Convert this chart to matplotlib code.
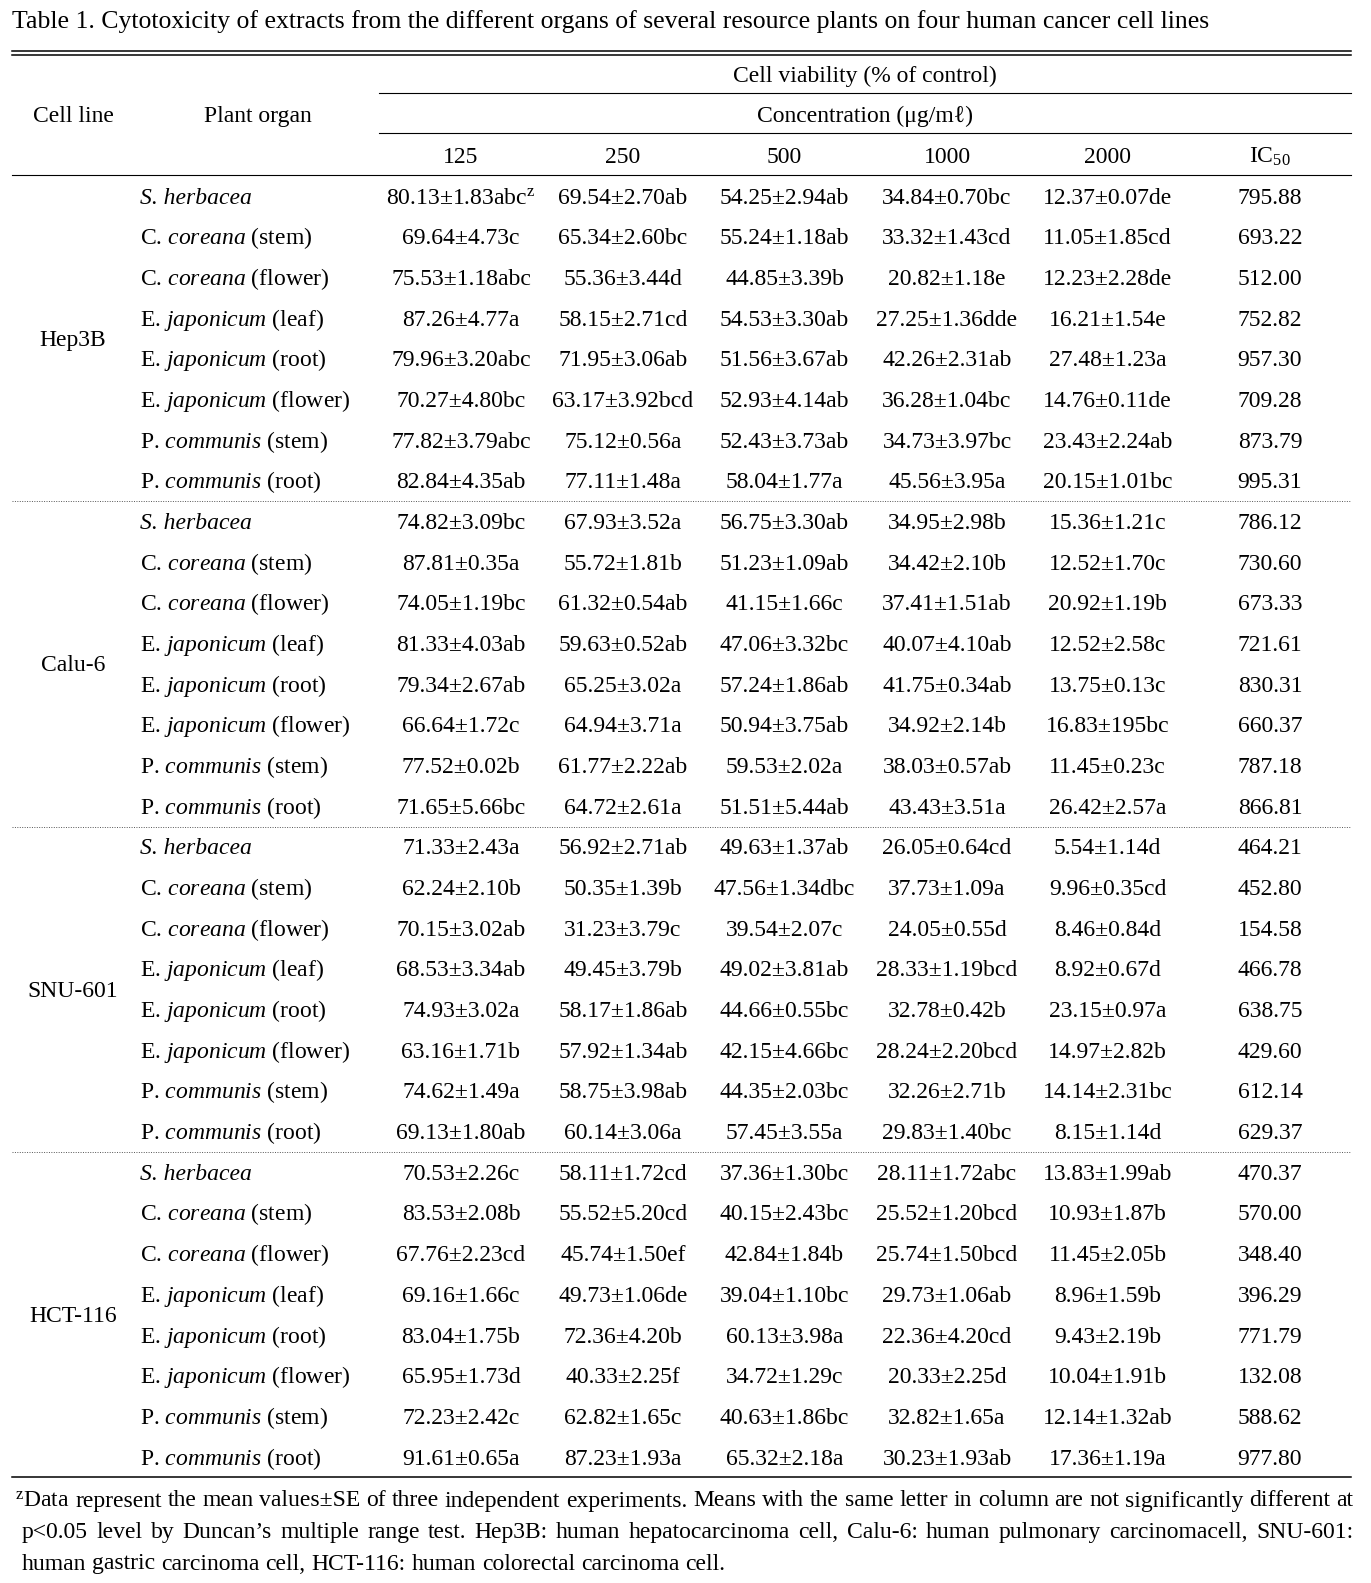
import matplotlib
matplotlib.use('Agg')
import matplotlib.pyplot as plt

plt.rcParams['font.family'] = ['Liberation Serif', 'DejaVu Serif']
plt.rcParams['mathtext.fontset'] = 'custom'
plt.rcParams['mathtext.rm'] = 'Liberation Serif'
plt.rcParams['mathtext.it'] = 'Liberation Serif:italic'

title = ("Table 1. Cytotoxicity of extracts from the different organs of "
         "several resource plants on four human cancer cell lines")
concentrations = ['125', '250', '500', '1000', '2000']

cell_lines = ['Hep3B', 'Calu-6', 'SNU-601', 'HCT-116']
organs = ['S. herbacea', 'C. coreana (stem)', 'C. coreana (flower)',
          'E. japonicum (leaf)', 'E. japonicum (root)', 'E. japonicum (flower)',
          'P. communis (stem)', 'P. communis (root)']

c125 = ['80.13±1.83abc', '69.64±4.73c', '75.53±1.18abc', '87.26±4.77a',
        '79.96±3.20abc', '70.27±4.80bc', '77.82±3.79abc', '82.84±4.35ab',
        '74.82±3.09bc', '87.81±0.35a', '74.05±1.19bc', '81.33±4.03ab',
        '79.34±2.67ab', '66.64±1.72c', '77.52±0.02b', '71.65±5.66bc',
        '71.33±2.43a', '62.24±2.10b', '70.15±3.02ab', '68.53±3.34ab',
        '74.93±3.02a', '63.16±1.71b', '74.62±1.49a', '69.13±1.80ab',
        '70.53±2.26c', '83.53±2.08b', '67.76±2.23cd', '69.16±1.66c',
        '83.04±1.75b', '65.95±1.73d', '72.23±2.42c', '91.61±0.65a']
c250 = ['69.54±2.70ab', '65.34±2.60bc', '55.36±3.44d', '58.15±2.71cd',
        '71.95±3.06ab', '63.17±3.92bcd', '75.12±0.56a', '77.11±1.48a',
        '67.93±3.52a', '55.72±1.81b', '61.32±0.54ab', '59.63±0.52ab',
        '65.25±3.02a', '64.94±3.71a', '61.77±2.22ab', '64.72±2.61a',
        '56.92±2.71ab', '50.35±1.39b', '31.23±3.79c', '49.45±3.79b',
        '58.17±1.86ab', '57.92±1.34ab', '58.75±3.98ab', '60.14±3.06a',
        '58.11±1.72cd', '55.52±5.20cd', '45.74±1.50ef', '49.73±1.06de',
        '72.36±4.20b', '40.33±2.25f', '62.82±1.65c', '87.23±1.93a']
c500 = ['54.25±2.94ab', '55.24±1.18ab', '44.85±3.39b', '54.53±3.30ab',
        '51.56±3.67ab', '52.93±4.14ab', '52.43±3.73ab', '58.04±1.77a',
        '56.75±3.30ab', '51.23±1.09ab', '41.15±1.66c', '47.06±3.32bc',
        '57.24±1.86ab', '50.94±3.75ab', '59.53±2.02a', '51.51±5.44ab',
        '49.63±1.37ab', '47.56±1.34dbc', '39.54±2.07c', '49.02±3.81ab',
        '44.66±0.55bc', '42.15±4.66bc', '44.35±2.03bc', '57.45±3.55a',
        '37.36±1.30bc', '40.15±2.43bc', '42.84±1.84b', '39.04±1.10bc',
        '60.13±3.98a', '34.72±1.29c', '40.63±1.86bc', '65.32±2.18a']
c1000 = ['34.84±0.70bc', '33.32±1.43cd', '20.82±1.18e', '27.25±1.36dde',
         '42.26±2.31ab', '36.28±1.04bc', '34.73±3.97bc', '45.56±3.95a',
         '34.95±2.98b', '34.42±2.10b', '37.41±1.51ab', '40.07±4.10ab',
         '41.75±0.34ab', '34.92±2.14b', '38.03±0.57ab', '43.43±3.51a',
         '26.05±0.64cd', '37.73±1.09a', '24.05±0.55d', '28.33±1.19bcd',
         '32.78±0.42b', '28.24±2.20bcd', '32.26±2.71b', '29.83±1.40bc',
         '28.11±1.72abc', '25.52±1.20bcd', '25.74±1.50bcd', '29.73±1.06ab',
         '22.36±4.20cd', '20.33±2.25d', '32.82±1.65a', '30.23±1.93ab']
c2000 = ['12.37±0.07de', '11.05±1.85cd', '12.23±2.28de', '16.21±1.54e',
         '27.48±1.23a', '14.76±0.11de', '23.43±2.24ab', '20.15±1.01bc',
         '15.36±1.21c', '12.52±1.70c', '20.92±1.19b', '12.52±2.58c',
         '13.75±0.13c', '16.83±195bc', '11.45±0.23c', '26.42±2.57a',
         '5.54±1.14d', '9.96±0.35cd', '8.46±0.84d', '8.92±0.67d',
         '23.15±0.97a', '14.97±2.82b', '14.14±2.31bc', '8.15±1.14d',
         '13.83±1.99ab', '10.93±1.87b', '11.45±2.05b', '8.96±1.59b',
         '9.43±2.19b', '10.04±1.91b', '12.14±1.32ab', '17.36±1.19a']
ic50 = ['795.88', '693.22', '512.00', '752.82', '957.30', '709.28', '873.79', '995.31',
        '786.12', '730.60', '673.33', '721.61', '830.31', '660.37', '787.18', '866.81',
        '464.21', '452.80', '154.58', '466.78', '638.75', '429.60', '612.14', '629.37',
        '470.37', '570.00', '348.40', '396.29', '771.79', '132.08', '588.62', '977.80']

footnote = [
    "$^{\\mathrm{z}}$Data represent the mean values±SE of three independent experiments. "
    "Means with the same letter in column are not significantly different at",
    "p<0.05 level by Duncan’s multiple range test. Hep3B: human hepatocarcinoma cell, "
    "Calu-6: human pulmonary carcinomacell, SNU-601:",
    "human gastric carcinoma cell, HCT-116: human colorectal carcinoma cell.",
]


def organ_label(name):
    # genus initial upright, species italic, plant part upright
    parts = name.split(' ', 2)
    rest = ' ' + parts[2] if len(parts) > 2 else ''
    return parts[0] + r' $\mathit{%s}$' % parts[1] + rest


fs = 17
W, H = 1371, 1583
fig = plt.figure(figsize=(W / 100, H / 100), dpi=100)
ax = fig.add_axes([0, 0, 1, 1])
ax.set_xlim(0, W)
ax.set_ylim(H, 0)
ax.axis('off')

x_left, x_right = 12, 1351
col_x = [461, 623, 784.5, 947, 1107.5, 1270]
row0, dy = 196, 40.68
base = 7.5  # baseline offset below the row's visual centre


def put(x, y, s, ha='center', **kw):
    return ax.text(x, y + base, s, fontsize=kw.pop('size', fs), ha=ha,
                   va='baseline', **kw)


put(x_left, 20, title, ha='left', size=18.5)

# rules
ax.plot([x_left, x_right], [50.5, 50.5], color='black', lw=1.1)
ax.plot([x_left, x_right], [54.5, 54.5], color='black', lw=1.1)
ax.plot([379, x_right], [93, 93], color='black', lw=0.8)
ax.plot([379, x_right], [133, 133], color='black', lw=0.8)
ax.plot([x_left, x_right], [174.5, 174.5], color='black', lw=0.8)

# header
put(865, 74, 'Cell viability (% of control)')
put(865, 114, 'Concentration (μg/mℓ)')
put(73, 114, 'Cell line')
put(258, 114, 'Plant organ')
for x, c in zip(col_x, concentrations + [r'IC$_{50}$']):
    put(x, 155, c)

columns = [c125, c250, c500, c1000, c2000, ic50]
n_org = len(organs)
for g, cl in enumerate(cell_lines):
    y_mid = row0 + dy * (g * n_org + (n_org - 1) / 2)
    put(73, y_mid, cl)
    for k, org in enumerate(organs):
        i = g * n_org + k
        y = row0 + dy * i
        if org.startswith('S.'):
            put(140, y, org, ha='left', fontstyle='italic')
        else:
            put(140, y, organ_label(org), ha='left')
        for j, col in enumerate(columns):
            s = col[i]
            if i == 0 and j == 0:
                s = s + r'$^{\mathrm{z}}$'
            put(col_x[j], y, s)
    if g < len(cell_lines) - 1:
        ys = row0 + dy * ((g + 1) * n_org - 0.5)
        ax.plot([x_left, x_right], [ys, ys], color='#555555', lw=0.7,
                linestyle=(0, (1, 1.5)))

y_bot = row0 + dy * (len(c125) - 0.5)
ax.plot([x_left, x_right], [y_bot, y_bot], color='black', lw=1.1)

# footnote, justified like the source
renderer = fig.canvas.get_renderer()
foot_y = [1499, 1530.5, 1562]
foot_x0 = [15, 22, 22]
for n, line in enumerate(footnote):
    words = line.split(' ')
    texts = [put(0, foot_y[n], w, ha='left') for w in words]
    widths = [t.get_window_extent(renderer).width for t in texts]
    if n < len(footnote) - 1:
        gap = (1353 - foot_x0[n] - sum(widths)) / (len(words) - 1)
    else:
        gap = fs * 0.25 * 100 / 72
    x = foot_x0[n]
    for t, w in zip(texts, widths):
        t.set_x(x)
        x += w + gap

fig.savefig('out.png', dpi=100)
